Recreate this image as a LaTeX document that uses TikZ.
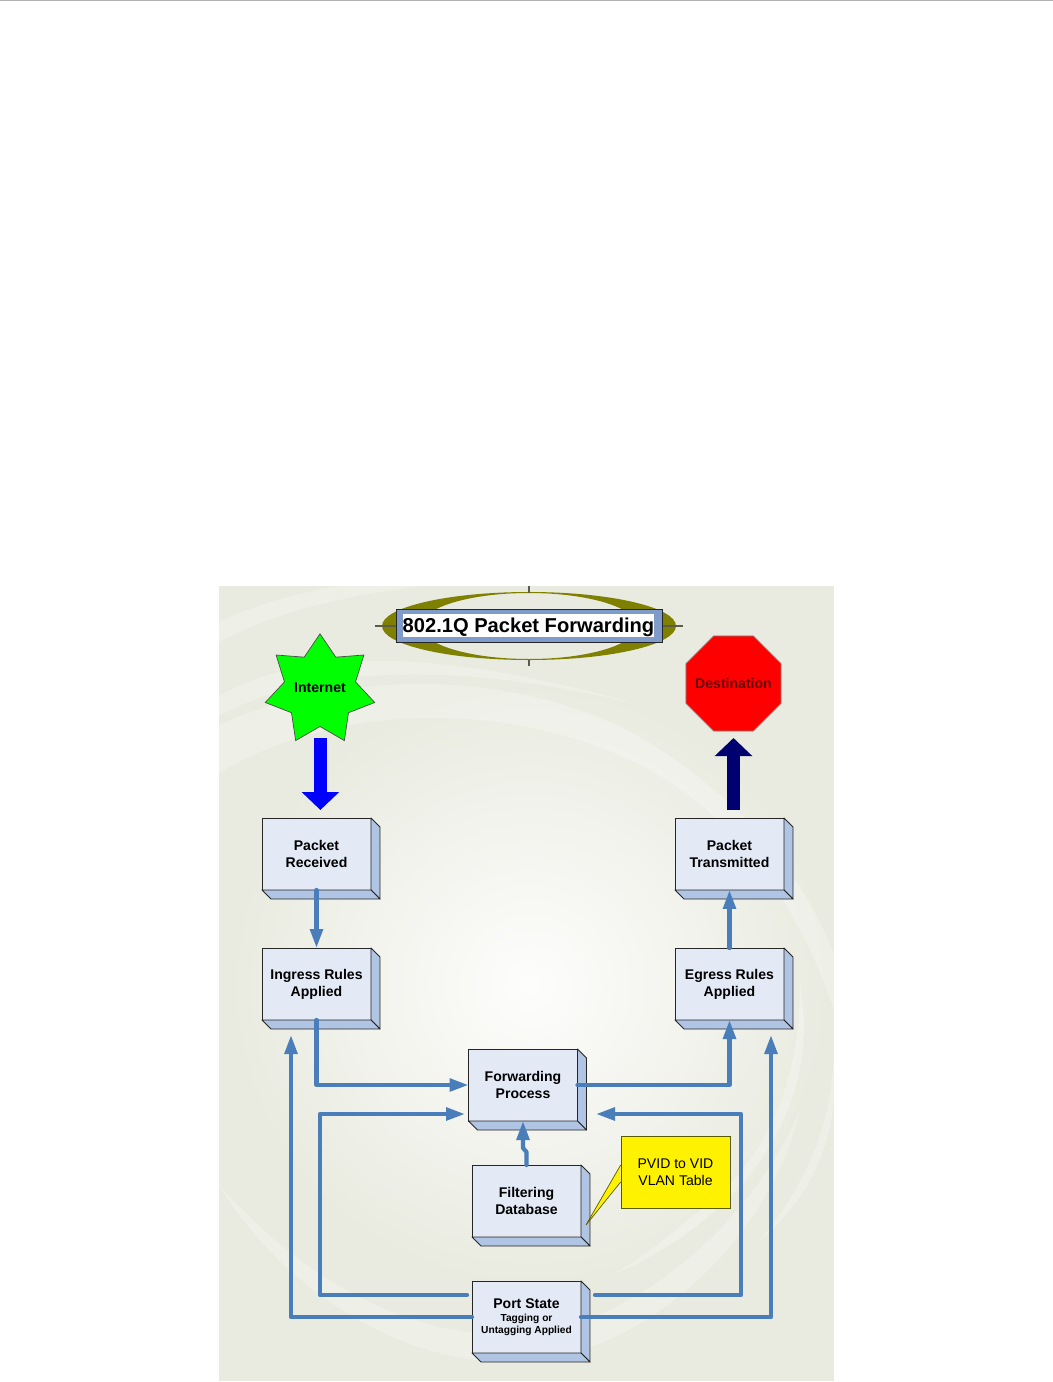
\documentclass[tikz,border=0pt]{standalone}
\usepackage{fontspec}
\setmainfont{Liberation Sans}
\usetikzlibrary{positioning, shapes, shapes.geometric, arrows, arrows.meta}
\definecolor{pagebg}{HTML}{E9EBE0}
\definecolor{faceblue}{HTML}{E3EAF6}
\definecolor{sideblue}{HTML}{B0C4E3}
\definecolor{linkblue}{HTML}{4A7EBB}
\definecolor{plateblue}{HTML}{7F9BC9}
\definecolor{ringolive}{HTML}{808000}
\definecolor{crossgray}{HTML}{5C5C48}
\definecolor{darknavy}{HTML}{000070}
\tikzset{>=latex}
\tikzset{
    slab/.style = {rectangle, draw=black!85, fill=faceblue, line width=0.5pt, outer sep=0pt, inner sep=0pt,
                        minimum width=2.18cm, minimum height=1.44cm, align=center,
                        font=\fontsize{8}{9.6}\selectfont\bfseries},
    slabside/.style = {draw=black!85, fill=sideblue, line width=0.5pt, line join=round},
    link/.style = {draw=linkblue, line width=2.4pt, line cap=round, line join=round, -{Triangle[length=0.38cm,width=0.25cm]}},
    fatarrow/.style = {line width=0.25cm, -{Triangle[length=0.36cm,width=0.73cm]}},
    swirl/.style = {fill=white, opacity=0.26, draw=none}
}
\begin{document}
\begin{tikzpicture}[x=0.02cm,y=-0.02cm]
	\useasboundingbox (0,0) rectangle (1053,1382);
	\draw [black!30, line width=0.6pt] (0,0.5) -- (1053,0.5);
	\fill [pagebg] (219,586) rectangle (834,1381);
	\begin{scope}
		\clip (219,586) rectangle (834,1381);
		\shade [inner color=white!92!pagebg, outer color=pagebg] (530,985) circle (300);
		\fill [swirl] (219,642) .. controls (270,615) and (340,595) .. (425,586) -- (340,586) .. controls (300,592) and (255,605) .. (219,622) -- cycle;
		\fill [swirl] (219,696) .. controls (300,650) and (430,645) .. (640,705) .. controls (480,665) and (320,660) .. (219,716) -- cycle;
		\fill [swirl] (219,725) .. controls (340,670) and (520,665) .. (650,743) .. controls (740,800) and (800,870) .. (834,953) -- (834,1010) .. controls (790,880) and (720,810) .. (650,770) .. controls (520,700) and (340,700) .. (219,773) -- cycle;
		\fill [swirl] (800,985) .. controls (800,1080) and (770,1160) .. (690,1218) .. controls (670,1235) and (640,1260) .. (611,1275) .. controls (680,1250) and (830,1150) .. (800,985) -- cycle;
		\fill [swirl] (834,1040) .. controls (834,1120) and (810,1180) .. (760,1240) .. controls (810,1200) and (834,1140) .. (834,1090) -- cycle;
		\fill [swirl] (219,1185) .. controls (270,1270) and (380,1362) .. (510,1362) .. controls (640,1362) and (770,1240) .. (800,1110) .. controls (750,1230) and (620,1335) .. (510,1335) .. controls (390,1335) and (290,1265) .. (219,1185) -- cycle;
	\end{scope}

	\fill [ringolive, even odd rule] (529,626) ellipse [x radius=147, y radius=34] (529,626) ellipse [x radius=108, y radius=33];
	\draw [crossgray, line width=0.6pt] (375,626) -- (683,626);
	\draw [crossgray, line width=0.6pt] (529,586) -- (529,593);
	\draw [crossgray, line width=0.6pt] (529,660) -- (529,666);
	\node (plate) [rectangle, draw=black!85, fill=plateblue, line width=0.5pt, minimum width=5.32cm, minimum height=0.66cm] at (529,626) {};
	\node (title) [rectangle, fill=white, inner sep=0pt, minimum width=5.04cm, minimum height=0.46cm, text height=9.5pt, text depth=1.5pt, font=\fontsize{11.45}{13}\selectfont\bfseries] at (528.5,625.5) {802.1Q Packet Forwarding};

	\node (internet) [star, star points=7, star point ratio=1.54, draw=black!70, fill=green, line width=0.4pt, inner sep=0pt, minimum size=2.09cm, font=\fontsize{8}{9.6}\selectfont\bfseries] at (320,690) {\raisebox{3pt}{Internet}};
	\node (destination) [regular polygon, regular polygon sides=8, draw=black!50, fill=red, line width=0.4pt, inner sep=0pt, minimum size=2.06cm, text=red!40!black, font=\fontsize{8}{9.6}\selectfont\bfseries] at (733.5,683.5) {\makebox[0pt]{Destination}};

	\node (received) [slab] at (316.5,854) {Packet\\Received};
	\node (ingress) [slab] at (316.5,984) {Ingress Rules\\Applied};
	\node (transmitted) [slab] at (729.5,854) {Packet\\Transmitted};
	\node (egress) [slab] at (729.5,984) {Egress Rules\\Applied};
	\node (forwarding) [slab] at (523,1085) {Forwarding\\Process};
	\node (filtering) [slab] at (526.5,1201) {Filtering\\Database};
	\node (portstate) [slab] at (526.5,1317) {Port State\\[-2.2pt]{\fontsize{5.8}{6.8}\selectfont Tagging or}\\[-2.8pt]{\fontsize{5.8}{6.8}\selectfont Untagging Applied}};
	\foreach \n in {received,ingress,transmitted,egress,forwarding,filtering,portstate} {
		\draw [slabside] (\n.north east) -- ++(9,9) -- ++(0,72) -- ++(-9,-9) -- cycle;
		\draw [slabside] (\n.south west) -- ++(9,9) -- ++(109,0) -- ++(-9,-9) -- cycle;
	}

	\node (vlantable) [rectangle, draw=ringolive!70!black, fill=yellow, line width=0.4pt, minimum width=2.18cm, minimum height=1.44cm, align=center, font=\fontsize{8}{9.6}\selectfont] at (675.5,1172) {PVID to VID\\VLAN Table};
	\coordinate (notetip) at (586,1225);
	\filldraw [draw=ringolive!70!black, fill=yellow, line width=0.4pt] ([yshift=0.14cm]vlantable.west) -- (notetip) -- ([yshift=-0.2cm]vlantable.west);

	\coordinate (inetout) at (320.4,738);
	\coordinate (inetin) at (320.4,810);
	\coordinate (destout) at (733.5,810);
	\coordinate (destin) at (733.5,738);
	\draw [fatarrow, blue] (inetout) -- (inetin);
	\draw [fatarrow, darknavy] (destout) -- (destin);

	\coordinate (stateleft) at (467,1295);
	\coordinate (stateright) at (595,1295);
	\coordinate (fwdleft) at (465,1114);
	\coordinate (fwdright) at (596,1114);
	\coordinate (ingressin) at (291,1035);
	\coordinate (egressin) at (771,1035);
	\draw [link] (received.south) -- (ingress.north);
	\draw [link] (ingress.south) |- (forwarding.west);
	\draw [link] (forwarding.east) -| (egress.south);
	\draw [link] (egress.north) -- (transmitted.south);
	\draw [link] (filtering.north) -- ++(0,-13) -- ++(-3.5,-4) -- (forwarding.south);
	\draw [link] (stateleft) -- (320,1295) -- (320,1114) -- (fwdleft);
	\draw [link] (stateright) -- (741,1295) -- (741,1114) -- (fwdright);
	\draw [link] (portstate.west) -| (ingressin);
	\draw [link] (portstate.east) -| (egressin);
\end{tikzpicture}
\end{document}
